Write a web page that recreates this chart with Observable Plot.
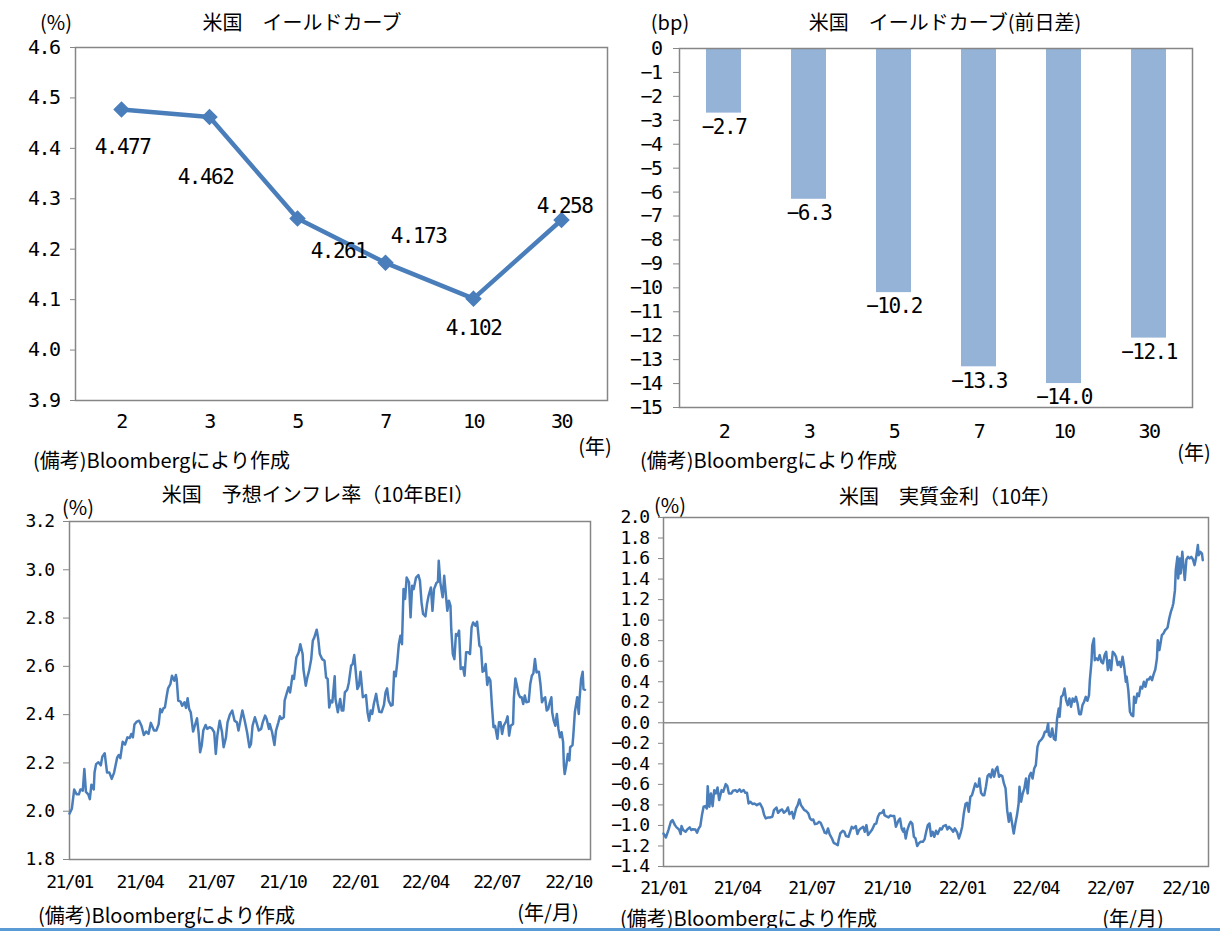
<!DOCTYPE html>
<html lang="ja">
<head>
<meta charset="utf-8">
<script src="https://cdn.jsdelivr.net/npm/d3@7"></script>
<script src="https://cdn.jsdelivr.net/npm/@observablehq/plot@0.6"></script>
<style>
  html, body { margin: 0; padding: 0; background: #fff; }
  #page { position: relative; width: 1220px; height: 943px; overflow: hidden; background: #fff;
          font-family: "Noto Sans CJK JP", sans-serif; color: #000; }
  .panel { position: absolute; }
  .txt { position: absolute; white-space: nowrap; font-size: 20px; line-height: 1; }
  .c { transform: translate(-50%, -50%); }
  .l { transform: translate(0, -50%); }
  #rule { position: absolute; left: 0; top: 928px; width: 1220px; height: 3px; background: #5b9bd5; }
</style>
</head>
<body>
<div id="page">
  <div class="panel" id="p1" style="left:0;top:0"></div>
  <div class="panel" id="p2" style="left:620px;top:0"></div>
  <div class="panel" id="p3" style="left:0;top:490px"></div>
  <div class="panel" id="p4" style="left:610px;top:490px"></div>

  <div class="txt c" style="left:56px;top:22px">(%)</div>
  <div class="txt c" style="left:302px;top:22px">米国　イールドカーブ</div>
  <div class="txt c" style="left:595px;top:446px">(年)</div>
  <div class="txt l" style="left:33px;top:460px">(備考)Bloombergにより作成</div>

  <div class="txt c" style="left:670px;top:22px">(bp)</div>
  <div class="txt c" style="left:945px;top:22px">米国　イールドカーブ(前日差)</div>
  <div class="txt c" style="left:1194px;top:452px">(年)</div>
  <div class="txt l" style="left:640px;top:460px">(備考)Bloombergにより作成</div>

  <div class="txt c" style="left:78px;top:507px">(%)</div>
  <div class="txt c" style="left:318px;top:494px">米国　予想インフレ率（10年BEI）</div>
  <div class="txt c" style="left:548px;top:912px">(年/月)</div>
  <div class="txt l" style="left:38px;top:915px">(備考)Bloombergにより作成</div>

  <div class="txt c" style="left:670px;top:505px">(%)</div>
  <div class="txt c" style="left:950px;top:496px">米国　実質金利（10年）</div>
  <div class="txt c" style="left:1133px;top:918px">(年/月)</div>
  <div class="txt l" style="left:620px;top:918px">(備考)Bloombergにより作成</div>

  <div id="rule"></div>
</div>
<script>
// ---- Yield curve (level, %) ----
const maturities = ["2", "3", "5", "7", "10", "30"];
const yields = [4.477, 4.462, 4.261, 4.173, 4.102, 4.258];
const yieldTicks = [3.9, 4.0, 4.1, 4.2, 4.3, 4.4, 4.5, 4.6];

// ---- Yield curve change from previous day (bp) ----
const changes = [-2.7, -6.3, -10.2, -13.3, -14.0, -12.1];
const changeTicks = [0, -1, -2, -3, -4, -5, -6, -7, -8, -9, -10, -11, -12, -13, -14, -15];

// ---- Time axes ----
const quarterTicks = ["2021-01-01", "2021-04-01", "2021-07-01", "2021-10-01",
                      "2022-01-01", "2022-04-01", "2022-07-01", "2022-10-01"];
const timeDomain = ["2021-01-01", "2022-10-29"];

// ---- 10y breakeven inflation (%) ----
const beiTicks = [1.8, 2.0, 2.2, 2.4, 2.6, 2.8, 3.0, 3.2];
const beiSeries = [
  ["2021-01-01",1.99],["2021-01-04",2.01],["2021-01-07",2.09],["2021-01-10",2.07],["2021-01-13",2.07],
  ["2021-01-15",2.09],["2021-01-18",2.085],["2021-01-20",2.175],["2021-01-22",2.08],["2021-01-25",2.07],
  ["2021-01-27",2.05],["2021-01-29",2.11],["2021-02-01",2.09],["2021-02-02",2.16],["2021-02-04",2.195],
  ["2021-02-07",2.203],["2021-02-10",2.19],["2021-02-12",2.226],["2021-02-15",2.24],["2021-02-18",2.16],
  ["2021-02-21",2.16],["2021-02-24",2.134],["2021-02-27",2.16],["2021-03-03",2.223],["2021-03-05",2.233],
  ["2021-03-07",2.22],["2021-03-10",2.288],["2021-03-13",2.276],["2021-03-16",2.306],["2021-03-19",2.303],
  ["2021-03-21",2.32],["2021-03-23",2.306],["2021-03-25",2.359],["2021-03-28",2.371],["2021-03-31",2.375],
  ["2021-04-03",2.354],["2021-04-06",2.316],["2021-04-09",2.33],["2021-04-12",2.32],["2021-04-15",2.366],
  ["2021-04-19",2.334],["2021-04-22",2.334],["2021-04-25",2.361],["2021-04-27",2.423],["2021-04-29",2.41],
  ["2021-05-01",2.426],["2021-05-03",2.43],["2021-05-05",2.472],["2021-05-07",2.509],["2021-05-10",2.527],
  ["2021-05-12",2.561],["2021-05-15",2.541],["2021-05-17",2.564],["2021-05-18",2.548],["2021-05-20",2.458],
  ["2021-05-23",2.454],["2021-05-25",2.437],["2021-05-28",2.451],["2021-05-30",2.428],["2021-06-01",2.468],
  ["2021-06-03",2.423],["2021-06-05",2.41],["2021-06-08",2.33],["2021-06-10",2.352],["2021-06-13",2.385],
  ["2021-06-15",2.327],["2021-06-17",2.244],["2021-06-19",2.272],["2021-06-21",2.334],["2021-06-24",2.357],
  ["2021-06-26",2.341],["2021-06-29",2.348],["2021-07-02",2.343],["2021-07-05",2.327],["2021-07-07",2.237],
  ["2021-07-09",2.313],["2021-07-12",2.375],["2021-07-15",2.327],["2021-07-17",2.265],["2021-07-20",2.306],
  ["2021-07-22",2.368],["2021-07-25",2.40],["2021-07-28",2.417],["2021-07-31",2.375],["2021-08-03",2.368],
  ["2021-08-05",2.334],["2021-08-07",2.368],["2021-08-10",2.417],["2021-08-13",2.375],["2021-08-16",2.327],
  ["2021-08-19",2.265],["2021-08-21",2.279],["2021-08-23",2.354],["2021-08-26",2.389],["2021-08-28",2.368],
  ["2021-08-31",2.334],["2021-09-03",2.341],["2021-09-05",2.368],["2021-09-08",2.396],["2021-09-10",2.382],
  ["2021-09-13",2.341],["2021-09-14",2.361],["2021-09-17",2.327],["2021-09-20",2.274],["2021-09-22",2.334],
  ["2021-09-25",2.368],["2021-09-27",2.393],["2021-09-29",2.382],["2021-10-02",2.389],["2021-10-03",2.458],
  ["2021-10-06",2.492],["2021-10-08",2.513],["2021-10-10",2.492],["2021-10-13",2.561],["2021-10-15",2.548],
  ["2021-10-18",2.637],["2021-10-21",2.658],["2021-10-23",2.692],["2021-10-26",2.651],["2021-10-27",2.589],
  ["2021-10-30",2.52],["2021-11-01",2.554],["2021-11-03",2.578],["2021-11-06",2.63],["2021-11-08",2.706],
  ["2021-11-10",2.72],["2021-11-13",2.752],["2021-11-15",2.713],["2021-11-17",2.651],["2021-11-20",2.63],
  ["2021-11-23",2.623],["2021-11-25",2.554],["2021-11-27",2.548],["2021-11-29",2.43],["2021-12-01",2.458],
  ["2021-12-03",2.451],["2021-12-06",2.559],["2021-12-07",2.465],["2021-12-10",2.41],["2021-12-13",2.465],
  ["2021-12-15",2.417],["2021-12-17",2.417],["2021-12-19",2.492],["2021-12-22",2.503],["2021-12-24",2.531],
  ["2021-12-27",2.603],["2021-12-29",2.61],["2021-12-31",2.647],["2022-01-02",2.575],["2022-01-04",2.506],
  ["2022-01-06",2.52],["2022-01-08",2.578],["2022-01-11",2.472],["2022-01-13",2.476],["2022-01-15",2.481],
  ["2022-01-17",2.41],["2022-01-19",2.375],["2022-01-21",2.417],["2022-01-23",2.403],["2022-01-25",2.444],
  ["2022-01-28",2.486],["2022-01-30",2.444],["2022-02-01",2.412],["2022-02-04",2.41],["2022-02-07",2.44],
  ["2022-02-09",2.492],["2022-02-11",2.509],["2022-02-13",2.458],["2022-02-16",2.437],["2022-02-18",2.44],
  ["2022-02-20",2.578],["2022-02-22",2.559],["2022-02-24",2.617],["2022-02-26",2.692],["2022-02-28",2.727],
  ["2022-03-02",2.692],["2022-03-04",2.92],["2022-03-06",2.879],["2022-03-08",2.968],["2022-03-11",2.948],
  ["2022-03-13",2.803],["2022-03-15",2.934],["2022-03-17",2.92],["2022-03-20",2.968],["2022-03-23",2.978],
  ["2022-03-25",2.954],["2022-03-27",2.865],["2022-03-29",2.817],["2022-04-01",2.807],["2022-04-03",2.858],
  ["2022-04-05",2.892],["2022-04-08",2.927],["2022-04-10",2.83],["2022-04-12",2.92],["2022-04-15",2.945],
  ["2022-04-17",2.95],["2022-04-18",3.037],["2022-04-20",2.948],["2022-04-23",2.886],["2022-04-25",2.975],
  ["2022-04-27",2.9],["2022-04-29",2.83],["2022-05-01",2.872],["2022-05-03",2.851],["2022-05-04",2.754],
  ["2022-05-06",2.651],["2022-05-08",2.63],["2022-05-10",2.734],["2022-05-12",2.727],["2022-05-14",2.748],
  ["2022-05-16",2.589],["2022-05-19",2.596],["2022-05-21",2.561],["2022-05-23",2.658],["2022-05-26",2.658],
  ["2022-05-28",2.651],["2022-05-30",2.761],["2022-06-01",2.782],["2022-06-04",2.768],["2022-06-06",2.785],
  ["2022-06-07",2.754],["2022-06-09",2.686],["2022-06-11",2.679],["2022-06-13",2.578],["2022-06-15",2.582],
  ["2022-06-17",2.61],["2022-06-19",2.523],["2022-06-21",2.554],["2022-06-23",2.541],["2022-06-25",2.437],
  ["2022-06-27",2.348],["2022-06-29",2.354],["2022-07-02",2.3],["2022-07-04",2.368],["2022-07-06",2.368],
  ["2022-07-08",2.32],["2022-07-10",2.354],["2022-07-13",2.371],["2022-07-15",2.393],["2022-07-17",2.313],
  ["2022-07-19",2.354],["2022-07-22",2.361],["2022-07-23",2.465],["2022-07-25",2.55],["2022-07-27",2.52],
  ["2022-07-29",2.486],["2022-07-31",2.472],["2022-08-02",2.472],["2022-08-04",2.444],["2022-08-06",2.479],
  ["2022-08-08",2.451],["2022-08-11",2.454],["2022-08-13",2.527],["2022-08-15",2.561],["2022-08-17",2.571],
  ["2022-08-19",2.63],["2022-08-21",2.575],["2022-08-24",2.578],["2022-08-26",2.527],["2022-08-28",2.451],
  ["2022-08-30",2.465],["2022-09-01",2.472],["2022-09-03",2.417],["2022-09-05",2.423],["2022-09-07",2.451],
  ["2022-09-09",2.472],["2022-09-10",2.41],["2022-09-12",2.375],["2022-09-14",2.354],["2022-09-16",2.403],
  ["2022-09-18",2.341],["2022-09-20",2.306],["2022-09-22",2.327],["2022-09-24",2.286],["2022-09-25",2.189],
  ["2022-09-26",2.154],["2022-09-28",2.189],["2022-09-30",2.237],["2022-10-02",2.21],["2022-10-03",2.265],
  ["2022-10-06",2.274],["2022-10-07",2.313],["2022-10-09",2.41],["2022-10-11",2.451],["2022-10-12",2.472],
  ["2022-10-14",2.403],["2022-10-15",2.465],["2022-10-17",2.548],["2022-10-19",2.578],["2022-10-20",2.506],
  ["2022-10-22",2.503]
];

// ---- 10y real yield (%) ----
const realTicks = [-1.4, -1.2, -1.0, -0.8, -0.6, -0.4, -0.2, 0.0, 0.2, 0.4, 0.6, 0.8, 1.0, 1.2, 1.4, 1.6, 1.8, 2.0];
const realSeries = [
  ["2021-01-01",-1.08],["2021-01-04",-1.117],["2021-01-07",-1.045],["2021-01-10",-0.964],["2021-01-12",-0.948],
  ["2021-01-15",-0.997],["2021-01-17",-1.019],["2021-01-20",-1.039],["2021-01-22",-1.084],["2021-01-23",-1.006],
  ["2021-01-25",-1.045],["2021-01-28",-1.062],["2021-01-30",-1.039],["2021-02-02",-1.019],["2021-02-04",-1.045],
  ["2021-02-06",-1.036],["2021-02-09",-1.039],["2021-02-11",-1.071],["2021-02-13",-1.029],["2021-02-15",-1.006],
  ["2021-02-17",-0.899],["2021-02-19",-0.818],["2021-02-21",-0.812],["2021-02-23",-0.834],["2021-02-24",-0.617],
  ["2021-02-26",-0.818],["2021-02-28",-0.688],["2021-03-02",-0.812],["2021-03-04",-0.656],["2021-03-06",-0.688],
  ["2021-03-08",-0.63],["2021-03-10",-0.753],["2021-03-13",-0.656],["2021-03-15",-0.672],["2021-03-18",-0.597],
  ["2021-03-20",-0.617],["2021-03-22",-0.688],["2021-03-25",-0.688],["2021-03-27",-0.662],["2021-03-30",-0.656],
  ["2021-04-01",-0.672],["2021-04-04",-0.649],["2021-04-06",-0.672],["2021-04-09",-0.656],["2021-04-11",-0.682],
  ["2021-04-13",-0.682],["2021-04-15",-0.786],["2021-04-17",-0.769],["2021-04-20",-0.792],["2021-04-22",-0.786],
  ["2021-04-25",-0.802],["2021-04-27",-0.792],["2021-04-29",-0.786],["2021-05-02",-0.834],["2021-05-04",-0.899],
  ["2021-05-06",-0.932],["2021-05-09",-0.922],["2021-05-11",-0.922],["2021-05-14",-0.916],["2021-05-16",-0.851],
  ["2021-05-19",-0.825],["2021-05-21",-0.877],["2021-05-24",-0.851],["2021-05-26",-0.844],["2021-05-28",-0.877],
  ["2021-05-31",-0.857],["2021-06-02",-0.825],["2021-06-04",-0.89],["2021-06-07",-0.867],["2021-06-09",-0.932],
  ["2021-06-12",-0.834],["2021-06-14",-0.802],["2021-06-16",-0.747],["2021-06-18",-0.802],["2021-06-20",-0.825],
  ["2021-06-22",-0.851],["2021-06-24",-0.857],["2021-06-27",-0.883],["2021-06-29",-0.932],["2021-07-01",-0.948],
  ["2021-07-03",-0.942],["2021-07-05",-0.987],["2021-07-08",-0.981],["2021-07-10",-0.964],["2021-07-12",-0.974],
  ["2021-07-15",-1.029],["2021-07-17",-1.071],["2021-07-19",-1.078],["2021-07-21",-1.029],["2021-07-23",-1.084],
  ["2021-07-26",-1.13],["2021-07-28",-1.169],["2021-07-31",-1.182],["2021-08-02",-1.192],["2021-08-03",-1.143],
  ["2021-08-05",-1.078],["2021-08-08",-1.052],["2021-08-10",-1.062],["2021-08-12",-1.104],["2021-08-15",-1.11],
  ["2021-08-17",-1.062],["2021-08-19",-1.013],["2021-08-21",-1.029],["2021-08-24",-1.006],["2021-08-26",-1.084],
  ["2021-08-28",-1.045],["2021-08-30",-1.029],["2021-09-02",-1.013],["2021-09-04",-1.062],["2021-09-06",-0.997],
  ["2021-09-08",-1.094],["2021-09-11",-1.062],["2021-09-13",-1.039],["2021-09-16",-0.987],["2021-09-18",-0.981],
  ["2021-09-20",-0.916],["2021-09-22",-0.883],["2021-09-25",-0.877],["2021-09-27",-0.851],["2021-09-28",-0.899],
  ["2021-09-30",-0.909],["2021-10-03",-0.922],["2021-10-05",-0.903],["2021-10-08",-0.909],["2021-10-10",-0.909],
  ["2021-10-12",-1.013],["2021-10-15",-0.955],["2021-10-17",-0.932],["2021-10-19",-1.029],["2021-10-21",-1.062],
  ["2021-10-22",-1.029],["2021-10-24",-1.127],["2021-10-26",-1.045],["2021-10-28",-0.997],["2021-10-30",-0.964],
  ["2021-11-01",-0.981],["2021-11-03",-1.11],["2021-11-05",-1.127],["2021-11-07",-1.201],["2021-11-09",-1.175],
  ["2021-11-11",-1.159],["2021-11-14",-1.159],["2021-11-16",-1.136],["2021-11-18",-1.062],["2021-11-20",-0.997],
  ["2021-11-22",-0.981],["2021-11-24",-1.104],["2021-11-26",-1.062],["2021-11-28",-1.11],["2021-11-30",-1.052],
  ["2021-12-02",-1.084],["2021-12-05",-1.029],["2021-12-07",-1.039],["2021-12-09",-1.006],["2021-12-12",-0.997],
  ["2021-12-14",-1.039],["2021-12-16",-1.013],["2021-12-19",-1.039],["2021-12-21",-1.062],["2021-12-23",-1.029],
  ["2021-12-26",-1.071],["2021-12-28",-1.127],["2021-12-30",-1.078],["2022-01-01",-1.013],["2022-01-03",-0.883],
  ["2022-01-05",-0.792],["2022-01-07",-0.779],["2022-01-09",-0.867],["2022-01-11",-0.721],["2022-01-13",-0.705],
  ["2022-01-15",-0.649],["2022-01-17",-0.591],["2022-01-19",-0.623],["2022-01-21",-0.617],["2022-01-22",-0.542],
  ["2022-01-24",-0.682],["2022-01-26",-0.705],["2022-01-28",-0.705],["2022-01-30",-0.623],["2022-02-01",-0.519],
  ["2022-02-03",-0.5],["2022-02-05",-0.532],["2022-02-07",-0.455],["2022-02-09",-0.526],["2022-02-11",-0.455],
  ["2022-02-13",-0.429],["2022-02-15",-0.526],["2022-02-17",-0.51],["2022-02-19",-0.519],["2022-02-21",-0.591],
  ["2022-02-23",-0.64],["2022-02-25",-0.851],["2022-02-27",-0.964],["2022-03-01",-0.88],["2022-03-03",-0.981],
  ["2022-03-05",-1.078],["2022-03-07",-0.981],["2022-03-09",-0.899],["2022-03-11",-0.786],["2022-03-12",-0.623],
  ["2022-03-14",-0.769],["2022-03-16",-0.688],["2022-03-18",-0.64],["2022-03-20",-0.542],["2022-03-22",-0.688],
  ["2022-03-24",-0.519],["2022-03-26",-0.487],["2022-03-28",-0.542],["2022-03-30",-0.445],["2022-04-01",-0.412],
  ["2022-04-03",-0.234],["2022-04-05",-0.185],["2022-04-08",-0.162],["2022-04-10",-0.136],["2022-04-12",-0.088],
  ["2022-04-14",-0.088],["2022-04-16",-0.006],["2022-04-17",-0.12],["2022-04-19",-0.136],["2022-04-21",-0.055],
  ["2022-04-23",-0.153],["2022-04-25",-0.169],["2022-04-27",0.042],["2022-04-29",0.14],["2022-04-30",0.058],
  ["2022-05-02",0.253],["2022-05-04",0.269],["2022-05-06",0.334],["2022-05-08",0.221],["2022-05-10",0.172],
  ["2022-05-12",0.237],["2022-05-14",0.156],["2022-05-16",0.237],["2022-05-18",0.205],["2022-05-20",0.253],
  ["2022-05-22",0.188],["2022-05-24",0.084],["2022-05-26",0.084],["2022-05-28",0.172],["2022-05-30",0.205],
  ["2022-06-01",0.253],["2022-06-03",0.214],["2022-06-05",0.269],["2022-06-06",0.416],["2022-06-08",0.594],
  ["2022-06-09",0.756],["2022-06-11",0.821],["2022-06-12",0.61],["2022-06-14",0.627],["2022-06-16",0.61],
  ["2022-06-18",0.659],["2022-06-20",0.594],["2022-06-22",0.578],["2022-06-24",0.659],["2022-06-26",0.692],
  ["2022-06-28",0.513],["2022-06-30",0.61],["2022-07-02",0.513],["2022-07-04",0.692],["2022-07-06",0.675],
  ["2022-07-08",0.643],["2022-07-10",0.562],["2022-07-12",0.594],["2022-07-14",0.545],["2022-07-16",0.643],
  ["2022-07-18",0.545],["2022-07-20",0.399],["2022-07-21",0.448],["2022-07-23",0.318],["2022-07-25",0.107],
  ["2022-07-27",0.075],["2022-07-29",0.065],["2022-07-30",0.253],["2022-08-01",0.195],["2022-08-03",0.286],
  ["2022-08-05",0.26],["2022-08-07",0.351],["2022-08-09",0.334],["2022-08-11",0.399],["2022-08-13",0.351],
  ["2022-08-15",0.422],["2022-08-17",0.422],["2022-08-19",0.448],["2022-08-21",0.416],["2022-08-23",0.474],
  ["2022-08-25",0.519],["2022-08-27",0.627],["2022-08-28",0.805],["2022-08-30",0.708],["2022-08-31",0.756],
  ["2022-09-02",0.854],["2022-09-04",0.87],["2022-09-06",0.903],["2022-09-07",0.909],["2022-09-09",0.929],
  ["2022-09-11",1.016],["2022-09-13",1.081],["2022-09-15",1.13],["2022-09-16",1.162],["2022-09-18",1.292],
  ["2022-09-19",1.487],["2022-09-21",1.617],["2022-09-22",1.406],["2022-09-24",1.601],["2022-09-25",1.455],
  ["2022-09-27",1.666],["2022-09-28",1.568],["2022-09-30",1.39],["2022-10-02",1.591],["2022-10-04",1.617],
  ["2022-10-06",1.601],["2022-10-08",1.617],["2022-10-10",1.591],["2022-10-12",1.536],["2022-10-14",1.617],
  ["2022-10-16",1.731],["2022-10-17",1.633],["2022-10-19",1.666],["2022-10-21",1.649],["2022-10-22",1.584]
];

// ---- Shared styling ----
const mono = "'DejaVu Sans Mono', monospace";
const lineBlue = "#4a7ebb";
const barBlue = "#95b3d7";
const axisGray = "#868686";
const minus = (v, digits) => (v < 0 ? "\u2212" : "") + Math.abs(v).toFixed(digits);
const svgStyle = (size) => ({fontFamily: mono, fontSize: size + "px", letterSpacing: "-1.5px",
                             color: "#000", background: "transparent", overflow: "visible"});
const parse = d3.utcParse("%Y-%m-%d");

// Per-label nudges for the yield values (pixels)
const yieldLabelNudge = [[1, 38], [-4, 60], [41, 33], [33, -27], [0, 30], [3, -14]];

// Panel 1: yield curve
const curveRows = maturities.map((m, i) => ({maturity: m, value: yields[i]}));
const p1 = Plot.plot({
  width: 620, height: 440,
  marginLeft: 75, marginRight: 13, marginTop: 47, marginBottom: 40,
  style: svgStyle(20),
  x: {type: "point", domain: maturities, padding: 0.5},
  y: {domain: [3.9, 4.6]},
  marks: [
    Plot.frame({stroke: axisGray, strokeWidth: 1.5}),
    Plot.axisY({ticks: yieldTicks, tickSize: 5, tickPadding: 11, stroke: axisGray,
                tickFormat: (d) => d.toFixed(1), label: null}),
    Plot.axisX({tickSize: 0, tickPadding: 13, label: null}),
    Plot.line(curveRows, {x: "maturity", y: "value", stroke: lineBlue, strokeWidth: 4.5}),
    Plot.dot(curveRows, {x: "maturity", y: "value", symbol: "diamond2", r: 6.5, fill: lineBlue, stroke: lineBlue}),
    ...curveRows.map((row, i) => Plot.text([row], {
      x: "maturity", y: "value", text: (d) => d.value.toFixed(3),
      dx: yieldLabelNudge[i][0], dy: yieldLabelNudge[i][1], fontSize: 21, fill: "#000"
    }))
  ]
});
document.getElementById("p1").append(p1);

// Panel 2: day-over-day change
const changeRows = maturities.map((m, i) => ({maturity: m, value: changes[i]}));
const p2 = Plot.plot({
  width: 600, height: 447,
  marginLeft: 59, marginRight: 28, marginTop: 48, marginBottom: 40,
  style: svgStyle(20),
  x: {type: "band", domain: maturities, paddingInner: 0.59, paddingOuter: 0.295},
  y: {domain: [-15, 0]},
  marks: [
    Plot.barY(changeRows, {x: "maturity", y: "value", fill: barBlue}),
    Plot.frame({stroke: axisGray, strokeWidth: 1.5}),
    Plot.axisY({ticks: changeTicks, tickSize: 6, tickPadding: 12, stroke: axisGray,
                tickFormat: (d) => minus(d, 0), label: null}),
    Plot.axisX({tickSize: 0, tickPadding: 16, label: null}),
    Plot.text(changeRows, {x: "maturity", y: "value", text: (d) => minus(d.value, 1),
                           dy: 14, fontSize: 21, fill: "#000"})
  ]
});
document.getElementById("p2").append(p2);

// Panel 3: breakeven inflation
const beiRows = beiSeries.map(([d, v]) => ({date: parse(d), value: v}));
const p3 = Plot.plot({
  width: 610, height: 410,
  marginLeft: 69, marginRight: 20, marginTop: 31, marginBottom: 41,
  style: svgStyle(18),
  x: {type: "utc", domain: timeDomain.map(parse)},
  y: {domain: [1.8, 3.2]},
  marks: [
    Plot.frame({stroke: axisGray, strokeWidth: 1.5}),
    Plot.axisY({ticks: beiTicks, tickSize: 6, tickPadding: 10, stroke: axisGray,
                tickFormat: (d) => d.toFixed(1), label: null}),
    Plot.axisX({ticks: quarterTicks.map(parse), tickSize: 0, tickPadding: 16,
                tickFormat: d3.utcFormat("%y/%m"), label: null}),
    Plot.line(beiRows, {x: "date", y: "value", stroke: lineBlue, strokeWidth: 2.5, strokeLinejoin: "round"})
  ]
});
document.getElementById("p3").append(p3);

// Panel 4: real yield
const realRows = realSeries.map(([d, v]) => ({date: parse(d), value: v}));
const p4 = Plot.plot({
  width: 610, height: 410,
  marginLeft: 53, marginRight: 12, marginTop: 27, marginBottom: 34,
  style: svgStyle(18),
  x: {type: "utc", domain: timeDomain.map(parse)},
  y: {domain: [-1.4, 2.0]},
  marks: [
    Plot.frame({stroke: axisGray, strokeWidth: 1.5}),
    Plot.ruleY([0], {stroke: "#8c8c8c", strokeWidth: 1.5}),
    Plot.axisY({ticks: realTicks, tickSize: 5, tickPadding: 10, stroke: axisGray,
                tickFormat: (d) => minus(d, 1), label: null}),
    Plot.axisX({ticks: quarterTicks.map(parse), tickSize: 0, tickPadding: 15,
                tickFormat: d3.utcFormat("%y/%m"), label: null}),
    Plot.line(realRows, {x: "date", y: "value", stroke: lineBlue, strokeWidth: 2.5, strokeLinejoin: "round"})
  ]
});
document.getElementById("p4").append(p4);
</script>
</body>
</html>
